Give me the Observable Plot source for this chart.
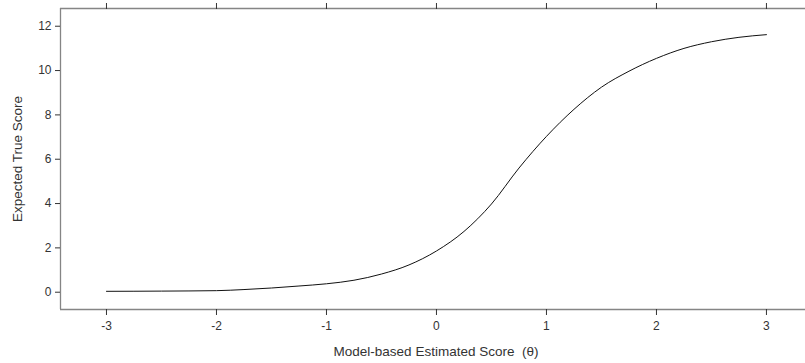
<!DOCTYPE html>
<html>
<head>
<meta charset="utf-8">
<script src="https://cdn.jsdelivr.net/npm/d3@7"></script>
<script src="https://cdn.jsdelivr.net/npm/@observablehq/plot@0.6"></script>
<style>
  html, body { margin: 0; padding: 0; background: #fff; overflow: hidden; }
  svg { display: block; }
</style>
</head>
<body>
<div id="chart"></div>
<script>
// Curve: model-based estimated score (theta) vs expected true score
const theta = [-3, -2.5, -2, -1.75, -1.5, -1.25, -1, -0.75, -0.5, -0.25, 0, 0.25, 0.5, 0.75, 1, 1.25, 1.5, 1.75, 2, 2.25, 2.5, 2.75, 3];
const expected = [0.04, 0.05, 0.07, 0.12, 0.19, 0.28, 0.38, 0.54, 0.82, 1.23, 1.86, 2.74, 3.98, 5.6, 7.03, 8.25, 9.25, 9.97, 10.55, 11.0, 11.3, 11.5, 11.62];

const xTicks = [-3, -2, -1, 0, 1, 2, 3];
const yTicks = [0, 2, 4, 6, 8, 10, 12];
const xLabel = "Model-based Estimated Score  (\u03B8)";
const yLabel = "Expected True Score";

const xDomain = [-3.418, 3.355];
const yDomain = [-0.78, 12.8];

const data = theta.map((t, i) => ({theta: t, score: expected[i]}));

const font = "'Liberation Sans', Arial, sans-serif";
const frameColor = "#858585";
const tickColor = "#333";

const chart = Plot.plot({
  width: 805,
  height: 363,
  marginLeft: 60,
  marginRight: 0,
  marginTop: 8,
  marginBottom: 54,
  style: {fontFamily: font, fontSize: "12px", color: "#333", background: "#fff"},
  x: {domain: xDomain, axis: null},
  y: {domain: yDomain, axis: null},
  marks: [
    // frame edges (left, bottom, top)
    Plot.ruleX([xDomain[0]], {stroke: frameColor, strokeWidth: 1.3}),
    Plot.ruleY([yDomain[0], yDomain[1]], {stroke: frameColor, strokeWidth: 1.3}),
    // axes
    Plot.axisY({ticks: yTicks, tickSize: 5, tickPadding: 4, stroke: tickColor, fill: "#333", fontSize: 12, label: null}),
    Plot.axisX({ticks: xTicks, anchor: "bottom", tickSize: 6, tickPadding: 6, stroke: tickColor, fill: "#333", fontSize: 12, label: null, tickFormat: d => d}),
    Plot.axisX({ticks: xTicks, anchor: "top", tickSize: 6, stroke: tickColor, label: null, tickFormat: () => ""}),
    // curve
    Plot.line(data, {x: "theta", y: "score", curve: "monotone-x", stroke: "#111", strokeWidth: 1}),
    // axis titles
    Plot.text([xLabel], {frameAnchor: "bottom", dx: 3, dy: 42, text: d => d, fontSize: 13.5, fill: "#333", textAnchor: "middle", lineAnchor: "middle"}),
    Plot.text([yLabel], {frameAnchor: "left", dx: -43, rotate: -90, text: d => d, fontSize: 13.5, fill: "#333", textAnchor: "middle", lineAnchor: "middle"})
  ]
});

document.getElementById("chart").appendChild(chart);
</script>
</body>
</html>
